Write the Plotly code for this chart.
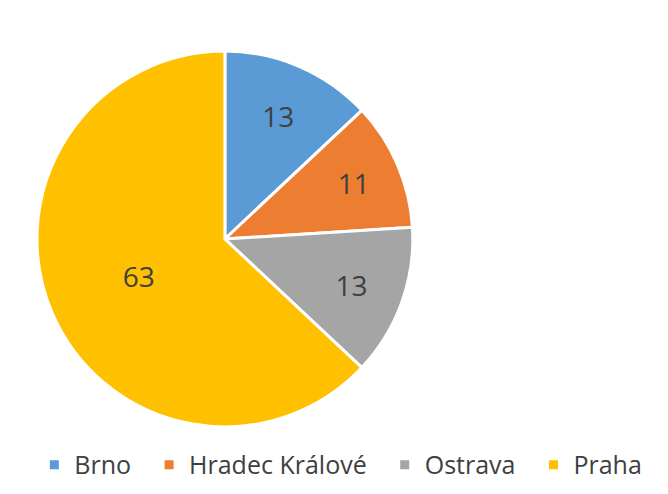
import plotly.graph_objects as go

labels = ["Brno", "Hradec Králové", "Ostrava", "Praha"]
values = [13, 11, 13, 63]
colors = ["#5B9BD5", "#ED7D31", "#A5A5A5", "#FFC000"]

pad = "\u00a0" * 2
fig = go.Figure(go.Pie(
    labels=[l + pad for l in labels], values=values, sort=False, direction="clockwise", rotation=0,
    marker=dict(colors=colors, line=dict(color="white", width=3)),
    textinfo="value", textposition="inside", insidetextorientation="horizontal",
    textfont=dict(size=28, color="#404040", family="Open Sans"),
    domain=dict(x=[0.0434, 0.606], y=[0.1519, 0.913]),
    hoverinfo="label+value",
))
fig.update_layout(
    width=668, height=494, margin=dict(l=0, r=0, t=0, b=0),
    paper_bgcolor="white", plot_bgcolor="white",
    font=dict(family="Open Sans", color="#404040"),
    uniformtext=dict(minsize=28, mode="show"),
    legend=dict(orientation="h", x=0.508, xanchor="center", y=0.075, yanchor="middle",
                font=dict(size=25, color="#404040"), itemwidth=30, traceorder="normal"),
)
fig.write_html("out.html")
